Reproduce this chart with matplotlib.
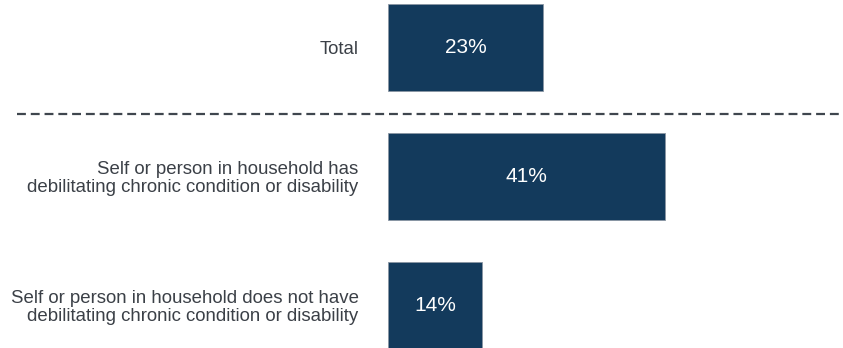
import matplotlib
matplotlib.use("Agg")
import matplotlib.pyplot as plt

plt.rcParams["font.family"] = ["Liberation Sans", "DejaVu Sans"]

categories = [
    "Total",
    "Self or person in household has\ndebilitating chronic condition or disability",
    "Self or person in household does not have\ndebilitating chronic condition or disability",
]
values = [23, 41, 14]

BAR_COLOR = "#133a5c"
TEXT_COLOR = "#3b4047"

fig = plt.figure(figsize=(8.43, 3.48), dpi=100)
# axes starts where the bars start; labels sit to the left in the margin
ax = fig.add_axes([387.7 / 843, 0, 1 - 387.7 / 843, 1])

pos = list(range(len(values)))
ax.barh(pos, values, height=0.674, color=BAR_COLOR, edgecolor="#8a96a3",
        linewidth=0.6)
ax.set_xlim(0, 67.4)
ax.set_ylim(2.33, -0.368)

for y, v in zip(pos, values):
    ax.text(v / 2, y, f"{v}%", ha="center", va="center", color="white",
            fontsize=15)

ax.set_yticks(pos)
ax.set_yticklabels(categories, fontsize=13.4, color=TEXT_COLOR,
                   linespacing=1.02)
ax.tick_params(axis="y", length=0, pad=21)
ax.set_xticks([])
for s in ax.spines.values():
    s.set_visible(False)

# separator between the total and the breakdown rows
ax.axhline(0.516, xmin=(17 - 387.7) / (843 - 387.7), xmax=1.02,
           color="#3f464e", linewidth=1.6, linestyle=(0, (4, 2.2)),
           clip_on=False)

fig.savefig("out.png", dpi=100)
